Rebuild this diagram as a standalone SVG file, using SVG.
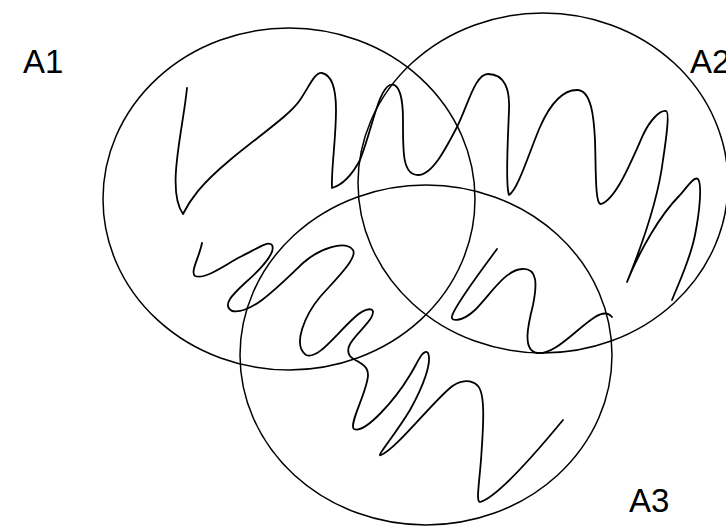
<svg xmlns="http://www.w3.org/2000/svg" width="726" height="526" viewBox="0 0 726 526">
<style>
.set{fill:none;stroke:#000;stroke-width:1.5}
.sq{fill:none;stroke:#000;stroke-width:1.8;stroke-linecap:round;stroke-linejoin:round}
.lbl{font-family:"Liberation Sans",Arial,sans-serif;font-size:33px;fill:#000}
</style>
<rect width="726" height="526" fill="#fff"/>
<g id="A1"><ellipse class="set" cx="289" cy="199" rx="186" ry="171"/><text class="lbl" x="23" y="73">A1</text></g>
<g id="A2"><ellipse class="set" cx="543" cy="183" rx="185" ry="170"/><text class="lbl" x="690" y="73">A2</text></g>
<g id="A3"><ellipse class="set" cx="426" cy="355" rx="186" ry="170"/><text class="lbl" x="629" y="512">A3</text></g>
<g id="connectors">
<path class="sq" d="M187,88 C183,130 166,190 183,214 C190,200 200,185 230,160 C260,135 290,115 300,100 C310,85 315,72 322,73 C332,75 336,90 336,110 C336,140 331,170 332,188 C342,185 352,175 360,160 C372,130 378,90 390,85 C400,82 403,100 403,120 C403,150 402,175 418,175 C432,175 445,150 457,127 C468,105 475,74 488,74 C505,74 510,90 509,110 C508,140 505,185 509,195 C518,190 530,150 540,127 C552,100 565,90 577,90 C592,90 594,120 595,140 C596,170 595,205 601,204 C615,200 630,165 643,135 C650,120 660,110 666,111 C670,112 666,140 663,160 C658,200 640,250 627,282 C640,250 660,215 680,195 C688,186 694,176 698,179 C702,184 700,210 695,235 C690,260 680,280 672,300"/>
<path class="sq" d="M202,243 C199,258 190,272 195,276 C205,280 225,265 240,257 C255,250 268,240 272,245 C276,252 262,268 245,283 C232,295 222,305 232,311 C250,315 275,290 303,263 C320,248 345,240 353,250 C358,258 335,280 320,297 C305,315 292,345 306,355 C318,360 335,335 355,317 C365,308 378,305 371,318 C362,332 342,345 350,356 C355,362 368,363 368,375 C368,390 348,425 354,429 C365,434 395,400 410,375 C418,362 423,348 428,353 C432,362 424,385 410,410 C395,435 375,458 381,455 C395,450 430,405 450,388 C458,381 470,378 478,386 C486,395 483,430 481,460 C479,485 476,502 480,502 C495,498 530,460 563,420"/>
<path class="sq" d="M497,249 C480,272 455,305 452,316 C450,322 462,322 475,310 C490,295 505,270 522,269 C538,268 537,285 533,305 C528,325 522,350 537,353 C555,355 575,330 595,317 C603,312 608,312 612,317"/>
</g>
</svg>
